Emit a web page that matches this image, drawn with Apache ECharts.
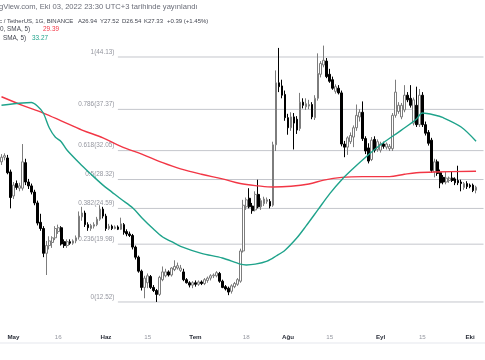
<!DOCTYPE html>
<html><head><meta charset="utf-8">
<script src="https://cdn.jsdelivr.net/npm/echarts@6.0.0/dist/echarts.min.js"></script>
<style>html,body{margin:0;padding:0;background:#fff}#c{width:485px;height:360px}</style>
</head><body><div id="c"></div>
<script>
// ---- data ----
const firstDay = [2022, 3, 27];      // 2022-04-27
const slotCount = 162;               // days on the time scale (last 2 empty)
const opens = [30.6,31.2,31.1,29.3,26.2,27.8,27.2,27.2,30.5,28.0,27.5,26.7,25.3,22.8,22.0,18.8,19.8,20.2,20.8,21.6,22.1,20.3,19.8,20.3,20.1,20.4,20.9,23.5,24.0,22.5,22.0,22.3,22.5,23.2,24.5,23.6,22.0,22.3,22.0,22.2,21.9,22.5,21.6,21.3,21.1,19.6,18.3,16.5,14.4,15.0,15.8,14.4,14.0,13.5,15.4,15.9,16.4,16.0,16.7,16.9,16.6,16.4,15.4,15.0,14.7,15.0,14.8,15.1,14.9,15.3,15.6,15.9,15.9,16.2,15.2,14.5,14.3,13.9,14.5,14.8,15.2,19.1,24.8,25.9,24.9,24.4,26.4,24.8,25.2,25.5,25.5,25.0,32.8,40.8,40.4,39.3,36.3,35.0,36.4,36.1,34.9,38.3,37.7,37.8,38.0,36.3,38.8,41.9,43.1,43.6,41.9,41.2,39.7,40.1,39.5,32.9,32.5,33.2,33.8,35.0,36.4,37.0,33.6,32.4,30.9,33.5,32.2,32.1,32.9,32.5,32.3,32.3,36.6,37.1,36.4,37.3,39.2,38.8,35.6,37.9,35.4,39.2,35.4,34.4,33.4,29.3,30.6,29.2,28.6,28.0,28.2,28.5,28.4,28.2,28.0,27.3,27.8,27.6,27.6,26.94];
const closes = [31.2,31.4,29.2,26.0,27.6,27.3,27.5,30.6,28.0,27.5,26.7,25.3,22.7,22.0,18.8,19.8,20.4,20.8,22.0,22.1,20.0,19.8,20.3,20.1,20.4,20.8,23.6,24.0,22.5,22.1,22.4,22.5,23.2,24.5,23.6,22.0,22.3,22.0,22.2,21.9,22.6,21.5,21.3,21.1,19.6,18.3,16.5,14.4,15.6,15.9,14.4,14.0,13.5,15.7,16.4,16.4,16.0,16.9,17.1,17.2,16.9,15.4,15.0,14.7,15.0,14.8,15.1,14.9,15.4,15.6,15.9,16.0,16.3,15.2,14.4,14.2,13.8,14.6,14.9,15.4,19.1,25.0,25.7,24.8,24.3,26.4,24.8,25.6,25.8,25.7,24.9,32.8,40.8,40.3,39.2,36.3,35.0,36.4,35.6,34.7,38.3,37.9,38.1,38.0,36.4,38.8,42.0,43.3,43.7,41.6,41.0,40.1,40.3,39.5,32.9,32.5,33.7,34.0,35.0,36.6,37.0,33.6,32.0,30.7,33.4,32.1,33.2,32.9,32.6,32.9,32.6,36.6,39.6,37.9,37.9,39.2,38.6,37.9,38.6,35.4,39.2,35.4,34.3,33.0,29.5,30.6,29.1,27.9,28.0,28.5,28.5,28.2,27.9,27.9,27.8,27.8,27.4,27.4,26.9,27.33];
const lows = [30.2,30.8,29.0,24.6,25.8,27.0,26.8,26.9,27.6,27.1,26.4,25.0,22.4,21.7,18.3,16.0,19.3,19.5,20.5,21.3,19.8,19.5,19.5,19.9,19.9,20.1,20.6,23.0,22.2,21.7,21.7,22.0,22.3,23.0,23.3,21.7,21.8,21.8,21.9,21.8,21.8,21.2,21.0,20.9,19.3,18.0,16.3,14.0,13.0,14.3,14.2,13.8,12.52,13.3,15.2,15.7,15.8,15.8,16.5,16.7,16.4,15.2,14.9,14.4,14.3,14.5,14.6,14.7,14.7,15.0,15.3,15.6,15.7,15.0,14.3,14.0,13.4,13.6,14.3,14.6,15.0,18.9,24.4,24.6,23.9,24.2,24.6,24.4,24.9,25.2,24.6,24.8,32.0,39.6,38.8,35.9,34.1,34.6,32.2,34.2,34.6,37.5,37.3,37.4,36.1,36.0,38.5,41.5,42.8,41.4,40.8,39.9,39.4,39.3,32.6,31.2,31.5,32.9,32.5,34.6,35.8,33.3,31.6,30.4,30.7,31.8,31.9,31.8,32.3,32.2,32.0,32.0,36.3,36.8,36.1,37.0,38.3,37.6,35.3,35.1,35.1,35.1,34.0,32.7,29.2,28.6,28.8,27.2,27.7,27.7,27.9,28.0,27.6,27.6,26.8,27.0,27.1,27.2,26.7,26.54];
const highs = [31.6,31.7,31.5,29.6,28.0,28.2,27.9,32.9,31.0,28.4,27.8,27.0,25.6,23.9,22.3,20.4,21.0,21.0,22.3,22.5,22.3,20.6,20.6,20.6,20.6,21.1,24.2,24.8,24.3,22.8,22.6,22.8,23.5,25.0,24.8,23.9,22.6,22.5,22.4,22.4,23.4,22.7,21.9,21.6,21.3,19.8,18.5,16.7,15.9,16.2,16.0,14.7,14.2,15.9,17.1,16.8,16.6,17.0,17.9,17.6,17.3,16.8,15.6,15.2,15.2,15.3,15.3,15.3,15.6,15.8,16.1,16.2,16.5,16.4,15.4,14.7,14.5,14.8,15.1,15.6,19.4,25.7,26.0,27.2,25.3,26.8,28.3,25.9,26.1,26.0,25.8,33.2,42.4,45.3,41.2,39.8,36.8,37.0,36.9,36.5,39.5,38.8,38.8,38.6,38.3,39.2,44.6,43.6,45.6,44.0,42.6,41.6,40.6,40.5,39.8,33.3,33.9,34.4,35.3,38.0,37.4,38.4,33.9,33.0,33.8,33.9,33.5,33.2,33.2,33.1,32.9,36.9,41.2,38.3,38.2,40.5,39.6,40.5,38.9,40.3,40.0,39.6,35.8,34.7,33.7,31.0,30.9,29.6,28.9,29.3,28.7,29.3,28.6,30.1,28.3,28.0,28.1,27.8,27.8,27.52];

// moving averages (date, value)
const ma200Dates = ['04-27','05-04','05-11','05-17','05-24','05-31','06-06','06-13','06-20','06-26','07-03','07-10','07-16','07-22','07-27','08-02','08-08','08-13','08-19','08-26','09-04','09-09','09-13','09-19','10-03'];
const ma200Values = [39.0,37.9,36.9,35.9,34.7,33.7,32.6,31.6,30.5,29.7,29.0,28.4,27.8,27.5,27.35,27.45,27.75,28.25,28.6,28.7,28.7,29.0,29.2,29.3,29.39];
const ma50Dates = ['04-27','05-04','05-07','05-09','05-11','05-13','05-15','05-17','05-19','05-24','05-27','05-31','06-03','06-06','06-10','06-13','06-17','06-20','06-23','06-26','07-03','07-10','07-16','07-18','07-21','07-25','07-28','07-31','08-04','08-07','08-11','08-15','08-19','08-23','08-27','09-01','09-08','09-13','09-15','09-19','09-22','09-28','10-03'];
const ma50Values = [37.9,38.2,38.25,37.8,36.9,35.0,33.8,33.2,32.1,30.1,29.0,27.6,26.7,25.8,24.65,23.4,21.9,20.9,20.3,19.7,18.8,18.2,17.4,17.3,17.4,17.8,18.45,19.2,20.8,22.3,24.4,26.5,28.3,29.8,31.2,32.8,34.7,36.1,36.9,36.65,36.3,35.1,33.27];

// Fibonacci retracement
const fibLevels = ['1','0.786','0.618','0.5','0.382','0.236','0'];
const fibValues = [44.13,37.37,32.05,28.32,24.59,19.98,12.52];
const fibStartSlot = 39.5;

// time-scale labels
const tickDates = ['05-01','05-16','06-01','06-15','07-01','07-18','08-01','08-15','09-01','09-15','10-01'];
const tickLabels = ['May','16','Haz','15','Tem','18','Ağu','15','Eyl','15','Eki'];
const tickIsMonth = [true,false,true,false,true,false,true,false,true,false,true];

// legend texts
const headerText = 'gView.com, Eki 03, 2022 23:30 UTC+3 tarihinde yayınlandı';
const symbolText = 'c / TetherUS, 1G, BINANCE';
const ohlcTexts = ['A26.94', 'Y27.52', 'D26.54', 'K27.33', '+0.39 (+1.45%)'];
const maTexts = ['0, SMA, 5)', 'SMA, 5)'];
const maLast = ['29.39', '33.27'];

// ---- build ----
const dates = [];
for (let i = 0; i < slotCount; i++) {
  dates.push(new Date(Date.UTC(firstDay[0], firstDay[1], firstDay[2] + i)).toISOString().slice(0, 10));
}
const candleData = opens.map((o, i) => [o, closes[i], lows[i], highs[i]]);
const toPts = (ds, vs) => ds.map((d, k) => [dates.indexOf('2022-' + d), vs[k]]);
const tickMap = {};
tickDates.forEach((d, k) => { tickMap['2022-' + d] = k; });

const FONT = '"Liberation Sans", Arial, sans-serif';
const RED = '#f23645', GREEN = '#1fa38b', TXT = '#434651';
const chart = echarts.init(document.getElementById('c'), null, {renderer: 'canvas'});

const fibLineSeries = fibValues.map((v) => ({
  type: 'line', xAxisIndex: 1, yAxisIndex: 0, silent: true, z: 1,
  symbol: 'none', data: [[fibStartSlot, v], [slotCount, v]],
  lineStyle: {color: '#c4c6cc', width: 1}
}));
const fibLabelSeries = {
  type: 'scatter', xAxisIndex: 1, yAxisIndex: 0, silent: true, z: 1,
  symbolSize: 1, itemStyle: {color: 'rgba(0,0,0,0)'},
  data: fibValues.map((v, k) => ({value: [fibStartSlot, v], name: fibLevels[k]})),
  label: {
    show: true, position: 'left', distance: 3, offset: [0, -5],
    fontSize: 6.4, fontFamily: FONT, color: '#787b86',
    formatter: (p) => p.name + '(' + p.value[1].toFixed(2) + ')'
  }
};

const ohlcX = [78, 100, 122, 144, 167];
const txt = (text, x, y, fill, size) => ({type: 'text', x: x, y: y, silent: true,
  style: {text: text, fill: fill, fontSize: size, fontFamily: FONT, verticalAlign: 'middle'}});

chart.setOption({
  animation: false,
  backgroundColor: '#ffffff',
  grid: {left: -2.5, right: 1.5, top: 40, bottom: 30},
  xAxis: [{
    type: 'category', data: dates, boundaryGap: true,
    axisLine: {show: false}, axisTick: {show: false}, splitLine: {show: false},
    axisLabel: {
      margin: 4, fontFamily: FONT, fontSize: 6,
      interval: (idx, val) => tickMap[val] !== undefined,
      formatter: (val) => {
        const k = tickMap[val];
        if (k === undefined) return '';
        return tickIsMonth[k] ? '{m|' + tickLabels[k] + '}' : '{d|' + tickLabels[k] + '}';
      },
      rich: {
        m: {fontSize: 6.2, fontWeight: 'bold', color: '#2a2e39', fontFamily: FONT},
        d: {fontSize: 6.2, color: '#9598a1', fontFamily: FONT}
      }
    }
  }, {
    type: 'value', min: 0, max: slotCount, show: false
  }],
  yAxis: [{
    type: 'value', min: 8.9042, max: 46.3235, show: false,
    splitLine: {show: false}
  }],
  series: [
    ...fibLineSeries,
    fibLabelSeries,
    {
      type: 'candlestick', xAxisIndex: 0, yAxisIndex: 0, z: 2,
      data: candleData, barWidth: 2.2,
      itemStyle: {
        color: '#ffffff', color0: '#000000',
        borderColor: '#7d7d7d', borderColor0: '#000000',
        borderColorDoji: '#7d7d7d', borderWidth: 1
      }
    },
    {
      type: 'line', xAxisIndex: 0, yAxisIndex: 0, z: 3, silent: true,
      data: toPts(ma200Dates, ma200Values), symbol: 'none', smooth: 0.35,
      lineStyle: {color: RED, width: 1.4}
    },
    {
      type: 'line', xAxisIndex: 0, yAxisIndex: 0, z: 3, silent: true,
      data: toPts(ma50Dates, ma50Values), symbol: 'none', smooth: 0.3,
      lineStyle: {color: GREEN, width: 1.4}
    }
  ],
  graphic: [
    txt(headerText, -1, 7, '#6a6d78', 7.6),
    txt(symbolText, -1, 21.5, TXT, 6),
    ...ohlcTexts.map((t, k) => txt(t, ohlcX[k], 21.5, TXT, 6)),
    txt(maTexts[0], 0, 29.5, TXT, 6.4),
    txt(maLast[0], 43, 29.5, RED, 6.4),
    txt(maTexts[1], 3, 38, TXT, 6.4),
    txt(maLast[1], 32, 38, GREEN, 6.4),
    {type: 'rect', silent: true, shape: {x: 0, y: 342.5, width: 485, height: 1}, style: {fill: '#e6e8ee'}}
  ]
});
</script></body></html>
